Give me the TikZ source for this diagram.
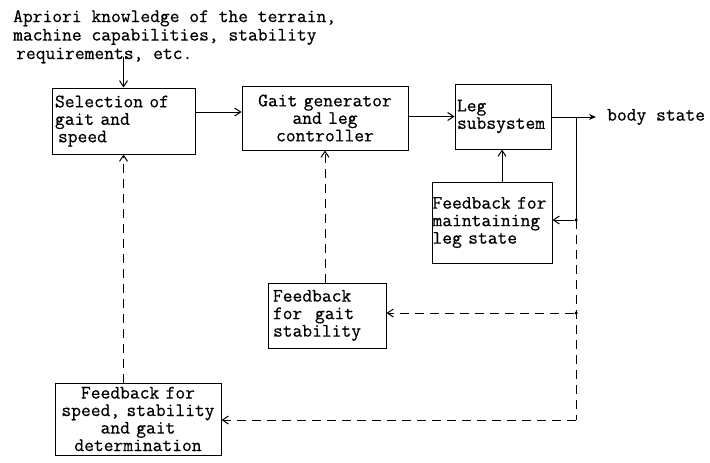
\documentclass[tikz,border=0pt]{standalone}
\usepackage{fontspec}
\setmainfont{Latin Modern Mono}[FakeBold=0.6]
\usetikzlibrary{arrows.meta,calc}
\begin{document}
\begin{tikzpicture}[x=1pt,y=-1pt,
  every node/.style={font=\fontsize{19}{17.5}\selectfont},
  blk/.style={draw,line width=1pt,inner xsep=2pt,inner ysep=0pt},
  line/.style={line width=1pt},
  arr/.style={line width=1pt,-{Straight Barb[length=6pt,width=8pt]}},
  dsh/.style={line width=1pt,dash pattern=on 9pt off 6pt},
  dot/.style={circle,fill,inner sep=0pt,minimum size=3.5pt}]
\useasboundingbox (0,0) rectangle (710,463);

% blocks
\node[blk,minimum width=143pt,minimum height=66pt,text width=137pt,align=left] (sel) at (123.5,121)
  {Selection of\\gait and\\\hspace*{3pt}speed};
\node[blk,minimum width=166pt,minimum height=64pt,text width=160pt,align=center] (gen) at (325,118)
  {Gait generator\\and leg\\controller};
\node[blk,minimum width=96pt,minimum height=65pt,text width=92pt,align=left] (leg) at (503,116.5)
  {Leg\\subsystem};
\node[blk,inner xsep=0.5pt,minimum width=120pt,minimum height=81pt,text width=119pt,align=left] (fbl) at (492,222.5)
  {Feedback for\\maintaining\\leg state};
\node[blk,minimum width=118pt,minimum height=65pt,text width=108pt,align=left] (fbg) at (327,315.5)
  {Feedback\\for\ \ gait\\stability};
\node[blk,inner xsep=0.5pt,minimum width=166pt,minimum height=72pt,text width=165pt,align=center] (fbs) at (138,419)
  {Feedback for\\speed, stability\\and gait\\determination};

% input text and output label
\node[anchor=north west,align=left,inner sep=0pt,font=\fontsize{19}{18.5}\selectfont] (apr) at (13,10)
  {Apriori knowledge of the terrain,\\machine capabilities, stability\\\hspace*{3pt}requirements, etc.};
\node[anchor=west,inner sep=0pt] (body) at (607,117) {body state};

% branch points on the output line
\coordinate (j0) at (576,117);
\node[dot] (j1) at (576,220) {};
\node[dot] (j2) at (576,313) {};
\coordinate (j3) at (576,420);
\coordinate (r12) at (0,112);

% forward path
\draw[arr] (sel.north |- apr.south) ++(0,6pt) -- (sel.north);
\draw[arr] (sel.east |- r12) -- (gen.west |- r12);
\draw[arr] (gen.east |- leg.east) -- (leg.west);
\draw[line,-{Stealth[length=7pt,width=6pt]}] (leg.east |- j0) -- ($(body.west)+(-11pt,0)$);

% feedback paths
\draw[line] (j0) -- (j1.center);
\draw[arr] (j1) -- (fbl.east |- j1);
\draw[arr] (fbl.north -| 502,0) -- (leg.south -| 502,0);
\draw[dsh] (j1.center) -- (j3);
\draw[dsh,-{Straight Barb[length=6pt,width=8pt]}] (j2) -- (fbg.east |- j2);
\draw[dsh,-{Straight Barb[length=6pt,width=8pt]}] (j3) -- (fbs.east |- j3);
\draw[dsh,-{Straight Barb[length=6pt,width=8pt]}] (gen.south |- fbg.north) -- (gen.south);
\draw[dsh,-{Straight Barb[length=6pt,width=8pt]}] (sel.south |- fbs.north) -- (sel.south);
\end{tikzpicture}
\end{document}
